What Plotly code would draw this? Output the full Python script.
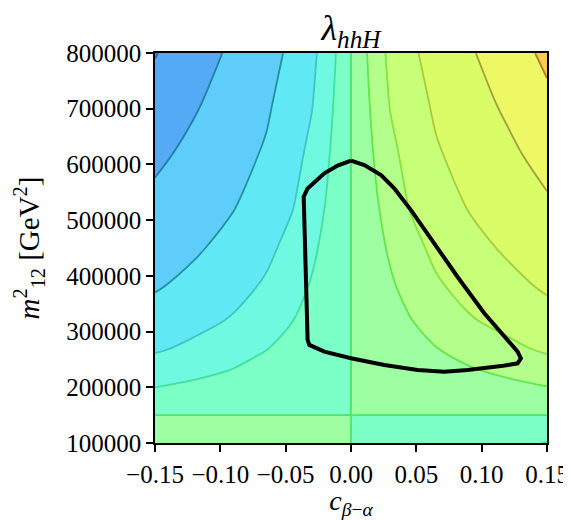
import numpy as np
import plotly.graph_objects as go

# ---- data ----
c_beta_alpha = [-0.15, -0.12, -0.09, -0.065, -0.045, -0.03, -0.02, -0.012, -0.006, -0.0005,
                0.0005, 0.006, 0.012, 0.02, 0.03, 0.045, 0.065, 0.09, 0.12, 0.15]
m12_sq = [100000, 120000, 135000, 149000, 151000, 165000, 180000, 200000, 230000, 270000,
          320000, 380000, 450000, 530000, 620000, 710000, 800000]

# lambda_hhH (arbitrary units), one row per m12^2 value
lam_hhH = [
    [0.75, 0.6, 0.45, 0.325, 0.225, 0.15, 0.1, 0.06, 0.03, 0.0025, -0.0025, -0.03, -0.06, -0.1, -0.15, -0.225, -0.325, -0.45, -0.6, -0.7725],
    [0.45, 0.36, 0.27, 0.195, 0.135, 0.09, 0.06, 0.036, 0.018, 0.0015, -0.0015, -0.018, -0.036, -0.06, -0.09, -0.135, -0.195, -0.27, -0.36, -0.4635],
    [0.225, 0.18, 0.135, 0.0975, 0.0675, 0.045, 0.03, 0.018, 0.009, 0.00075, -0.00075, -0.009, -0.018, -0.03, -0.045, -0.0675, -0.0975, -0.135, -0.18, -0.2318],
    [0.015, 0.012, 0.009, 0.0065, 0.0045, 0.003, 0.002, 0.0012, 0.0006, 0.00005, -0.00005, -0.0006, -0.0012, -0.002, -0.003, -0.0045, -0.0065, -0.009, -0.012, -0.0155],
    [-0.015, -0.012, -0.009, -0.0065, -0.0045, -0.003, -0.002, -0.0012, -0.0006, -0.00005, 0.00005, 0.0006, 0.0012, 0.002, 0.003, 0.0045, 0.0065, 0.009, 0.012, 0.0155],
    [-0.225, -0.18, -0.135, -0.0975, -0.0675, -0.045, -0.03, -0.018, -0.009, -0.00075, 0.00075, 0.009, 0.018, 0.03, 0.045, 0.0675, 0.0975, 0.135, 0.18, 0.2318],
    [-0.45, -0.36, -0.27, -0.195, -0.135, -0.09, -0.06, -0.036, -0.018, -0.0015, 0.0015, 0.018, 0.036, 0.06, 0.09, 0.135, 0.195, 0.27, 0.36, 0.4635],
    [-0.75, -0.6, -0.45, -0.325, -0.225, -0.15, -0.1, -0.06, -0.03, -0.0025, 0.0025, 0.03, 0.06, 0.1, 0.15, 0.225, 0.325, 0.45, 0.6, 0.7725],
    [-1.2, -0.96, -0.72, -0.52, -0.36, -0.24, -0.16, -0.096, -0.048, -0.004, 0.004, 0.048, 0.096, 0.16, 0.24, 0.36, 0.52, 0.72, 0.96, 1.236],
    [-1.8, -1.44, -1.08, -0.78, -0.54, -0.36, -0.24, -0.144, -0.072, -0.006, 0.006, 0.072, 0.144, 0.24, 0.36, 0.54, 0.78, 1.08, 1.44, 1.854],
    [-2.55, -2.04, -1.53, -1.105, -0.765, -0.51, -0.34, -0.204, -0.102, -0.0085, 0.0085, 0.102, 0.204, 0.34, 0.51, 0.765, 1.105, 1.53, 2.04, 2.627],
    [-3.45, -2.76, -2.07, -1.495, -1.035, -0.69, -0.46, -0.276, -0.138, -0.0115, 0.0115, 0.138, 0.276, 0.46, 0.69, 1.035, 1.495, 2.07, 2.76, 3.554],
    [-4.5, -3.6, -2.7, -1.95, -1.35, -0.9, -0.6, -0.36, -0.18, -0.015, 0.015, 0.18, 0.36, 0.6, 0.9, 1.35, 1.95, 2.7, 3.6, 4.635],
    [-5.7, -4.56, -3.42, -2.47, -1.71, -1.14, -0.76, -0.456, -0.228, -0.019, 0.019, 0.228, 0.456, 0.76, 1.14, 1.71, 2.47, 3.42, 4.56, 5.871],
    [-7.05, -5.64, -4.23, -3.055, -2.115, -1.41, -0.94, -0.564, -0.282, -0.0235, 0.0235, 0.282, 0.564, 0.94, 1.41, 2.115, 3.055, 4.23, 5.64, 7.262],
    [-8.4, -6.72, -5.04, -3.64, -2.52, -1.68, -1.12, -0.672, -0.336, -0.028, 0.028, 0.336, 0.672, 1.12, 1.68, 2.52, 3.64, 5.04, 6.72, 8.652],
    [-9.75, -7.8, -5.85, -4.225, -2.925, -1.95, -1.3, -0.78, -0.39, -0.0325, 0.0325, 0.39, 0.78, 1.3, 1.95, 2.925, 4.225, 5.85, 7.8, 10.04],
]

# contour levels (non-uniform), with outer anchors
contour_levels = [-12.8, -9.6, -6.4, -3.2, -1.6, -0.75, 0.0, 0.8, 1.6, 3.2, 6.2, 9.3, 12.8]

# allowed-region boundary (black curve)
region_c = [0.0, 0.0102, 0.023, 0.0331, 0.0459, 0.0637, 0.0816, 0.102, 0.1173, 0.1275, 0.130,
            0.1275, 0.1148, 0.0893, 0.0714, 0.051, 0.0255, 0.0, -0.0204, -0.0319, -0.0332,
            -0.0362, -0.0332, -0.0204, -0.0102, 0.0]
region_m = [607000, 599000, 581000, 557000, 518000, 458000, 398000, 333000, 291000, 264000, 252000,
            243000, 238000, 231000, 228000, 231000, 240000, 252000, 264000, 276000, 285000,
            542000, 557000, 584000, 598000, 607000]

# band colours (below lowest level ... above highest level)
fill_colors = ['#4f8fe8', '#55aaf5', '#5fcdfa', '#60e9f5', '#6ef9e0', '#7dffc8',
               '#9effa2', '#b4ff8c', '#c8ff78', '#dafc66', '#eef864', '#facc50']
line_colors = ['#2a5ea8', '#1f7fa8', '#23909f', '#3cc8c0', '#40e29a', '#48e868',
               '#62e64a', '#86e23c', '#a8cc38', '#a0a040', '#a88030']

# map lambda to band index (like a boundary norm), contours drawn at integer indices
z = np.interp(np.array(lam_hhH), contour_levels, np.arange(len(contour_levels)))
n_lines = len(contour_levels) - 2  # drawn levels: indices 1..11

fill_scale = [[k / (len(fill_colors) - 1), col] for k, col in enumerate(fill_colors)]
line_scale = [[k / (len(line_colors) - 1), col] for k, col in enumerate(line_colors)]

font_family = "Liberation Serif"

fig = go.Figure()
fig.add_trace(go.Contour(
    x=c_beta_alpha, y=m12_sq, z=z,
    autocontour=False,
    contours=dict(start=1, end=n_lines, size=1, coloring='fill'),
    colorscale=fill_scale, showscale=False,
    line=dict(width=0, smoothing=1),
    hoverinfo='skip',
))
fig.add_trace(go.Contour(
    x=c_beta_alpha, y=m12_sq, z=z,
    autocontour=False,
    contours=dict(start=1, end=n_lines, size=1, coloring='lines'),
    colorscale=line_scale, showscale=False,
    line=dict(width=1.8, smoothing=1),
    hoverinfo='skip',
))
fig.add_trace(go.Scatter(
    x=region_c, y=region_m, mode='lines',
    line=dict(color='black', width=4),
    hoverinfo='skip', showlegend=False,
))

axis_common = dict(
    showline=True, linecolor='black', linewidth=1.5, mirror=True,
    ticks='outside', ticklen=7, tickwidth=1.5, tickcolor='black',
    showgrid=False, zeroline=False, automargin=False,
    tickfont=dict(family=font_family, size=25, color='black'),
)

# the page body has an 8px margin: the figure is offset so the axes land
# where the reference has them
fig.update_layout(
    width=563, height=512,
    margin=dict(l=147, r=24, t=45, b=77),
    paper_bgcolor='white', plot_bgcolor='white',
    showlegend=False,
    title=dict(text='<i>λ<sub>hhH</sub></i>', x=0.5, xref='paper', xanchor='center',
               y=1, yref='paper', yanchor='bottom', pad=dict(b=13),
               font=dict(family=font_family, size=36, color='black')),
    xaxis=dict(range=[-0.15, 0.15], tickvals=[-0.15, -0.1, -0.05, 0, 0.05, 0.1, 0.15],
               tickformat='.2f', ticklabelstandoff=1,
               title=dict(text='<i>c</i><sub><i>β</i>−<i>α</i></sub>', standoff=10,
                          font=dict(family=font_family, size=28, color='black')),
               **axis_common),
    yaxis=dict(range=[100000, 800000], dtick=100000, tick0=100000, tickformat='d',
               title=dict(text='<i>m</i><sup>2</sup><sub>12</sub> [GeV<sup>2</sup>]', standoff=18,
                          font=dict(family=font_family, size=29, color='black')),
               **axis_common),
)

fig.write_html("out.html")
